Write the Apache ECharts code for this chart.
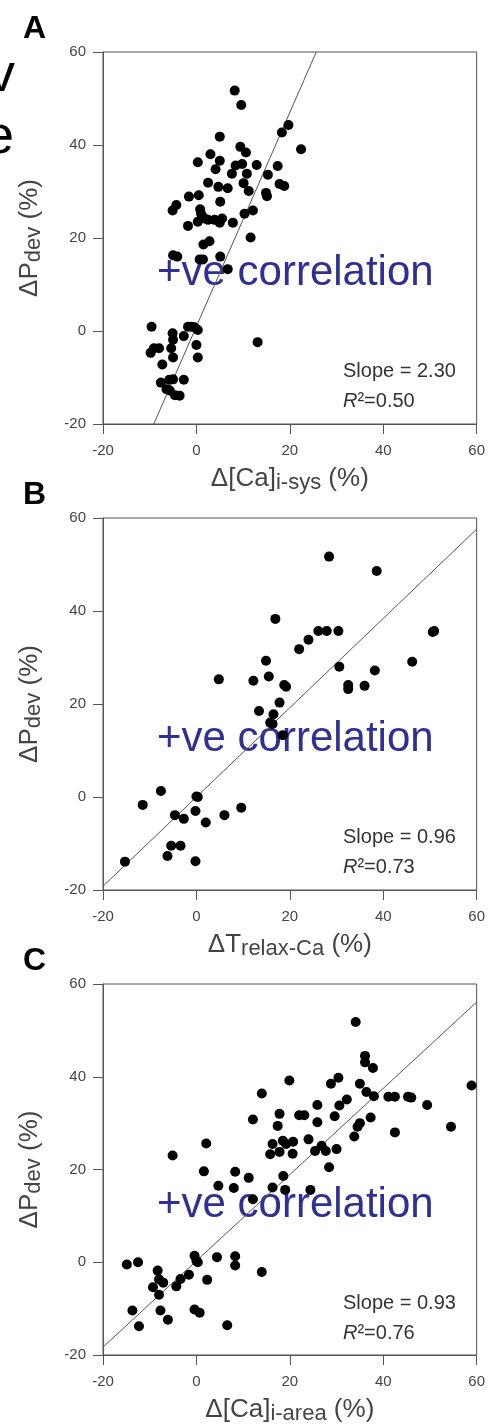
<!DOCTYPE html>
<html>
<head>
<meta charset="utf-8">
<script src="https://cdn.jsdelivr.net/npm/echarts@6/dist/echarts.min.js"></script>
<style>
  html, body { margin: 0; padding: 0; background: #fff; }
  #chart { width: 488px; height: 1426px; }
</style>
</head>
<body>
<div id="chart"></div>
<script>
// panel letters and fit results
const panelLabels = ['A', 'B', 'C']
const fitSlope = [2.30, 0.96, 0.93]
const fitIntercept = [1.0, 0.0, 0.3]
const fitR2 = ['0.50', '0.73', '0.76']
const xTicks = [-20, 60, 20]   // min, max, interval
const yTicks = [-20, 60, 20]

// A: dPdev vs d[Ca]i-sys
const pointsA = [
  [8.2, 51.7], [9.6, 48.6], [19.7, 44.3], [18.3, 42.7], [22.4, 39.1], [5.0, 41.8], [9.4, 39.6],
  [10.6, 38.4], [3.0, 38.0], [0.3, 36.3], [5.0, 36.6], [8.4, 35.6], [9.8, 35.9], [12.9, 35.7],
  [17.4, 35.5], [4.1, 34.8], [7.6, 33.8], [10.8, 33.8], [15.3, 33.6], [2.5, 31.9], [10.1, 31.8],
  [17.8, 31.6], [18.8, 31.2], [4.7, 31.0], [6.7, 30.7], [11.2, 30.1], [14.9, 29.7], [15.1, 29.0],
  [-1.6, 28.9], [0.5, 29.2], [5.1, 27.8], [-4.3, 27.1], [-5.1, 25.9], [0.8, 26.2], [12.1, 25.9],
  [1.0, 25.2], [10.3, 25.2], [1.8, 24.2], [2.5, 23.9], [3.9, 23.9], [5.5, 24.2], [0.3, 23.5],
  [5.0, 23.3], [7.8, 23.3], [-1.8, 22.6], [11.6, 20.1], [1.5, 18.6], [2.8, 19.3], [-5.0, 16.3],
  [-4.1, 16.0], [0.7, 15.4], [1.4, 15.4], [5.1, 16.0], [6.7, 13.3], [-9.6, 0.9], [-9.8, -4.7],
  [-9.1, -3.7], [-8.0, -3.7], [-5.1, -0.5], [-5.0, -1.9], [-5.4, -3.7], [-5.0, -5.7], [-7.3, -7.2],
  [-2.7, -1.1], [-1.8, 0.9], [-1.1, 0.9], [-0.4, 0.8], [0.3, 0.2], [0.0, -3.0], [0.3, -5.7],
  [13.1, -2.4], [-7.6, -11.1], [-5.8, -10.5], [-5.0, -10.4], [-2.7, -10.5], [-6.4, -12.5],
  [-5.7, -12.8], [-4.6, -13.8], [-3.6, -13.9]
]

// B: dPdev vs dT relax-Ca
const pointsB = [
  [28.4, 51.7], [38.6, 48.6], [16.9, 38.3], [26.1, 35.7], [27.9, 35.7], [30.4, 35.7], [24.0, 33.8],
  [22.0, 31.8], [14.9, 29.3], [46.2, 29.1], [50.6, 35.5], [50.9, 35.7], [30.6, 28.0], [38.2, 27.2],
  [4.8, 25.3], [12.2, 25.0], [15.5, 25.9], [18.8, 24.1], [19.2, 23.7], [32.5, 24.1], [32.5, 23.2],
  [36.0, 23.9], [17.8, 20.3], [13.4, 18.5], [16.5, 17.8], [15.8, 16.0], [16.3, 15.7], [18.5, 13.3],
  [-7.6, 1.3], [-11.5, -1.7], [0.0, 0.1], [0.3, 0.0], [-0.2, -3.0], [9.6, -2.3], [-4.6, -3.9],
  [-2.7, -4.7], [2.0, -5.5], [6.0, -3.9], [-5.4, -10.5], [-3.4, -10.5], [-6.2, -12.7],
  [-0.2, -13.8], [-15.3, -13.9]
]

// C: dPdev vs d[Ca]i-area
const pointsC = [
  [34.1, 51.8], [36.1, 44.5], [36.1, 43.1], [37.8, 41.9], [19.9, 39.2], [30.4, 39.8], [28.8, 38.5],
  [35.0, 38.5], [58.9, 38.1], [14.0, 36.4], [36.4, 36.7], [38.0, 35.8], [41.1, 35.7], [42.5, 35.7],
  [45.3, 35.7], [46.0, 35.5], [32.2, 35.1], [30.6, 33.8], [25.9, 33.9], [49.4, 33.9], [17.8, 32.0],
  [22.0, 31.7], [23.1, 31.7], [29.6, 31.5], [37.3, 31.2], [12.1, 30.8], [25.9, 30.2], [17.4, 29.4],
  [35.0, 30.0], [34.5, 29.2], [54.5, 29.2], [42.5, 28.0], [33.8, 27.1], [24.0, 26.5], [2.1, 25.6],
  [16.3, 25.5], [18.5, 26.2], [19.2, 25.5], [20.7, 26.0], [26.8, 25.1], [15.8, 23.3], [17.8, 23.8],
  [20.6, 23.4], [25.4, 24.0], [27.7, 24.0], [30.0, 24.4], [-5.1, 23.0], [28.4, 20.5], [1.6, 19.6],
  [8.3, 19.5], [11.2, 18.2], [18.6, 18.6], [4.7, 16.5], [8.0, 16.0], [16.3, 16.1], [19.0, 15.6],
  [24.4, 15.6], [12.1, 13.6], [-14.9, -0.5], [-12.5, 0.0], [-0.4, 1.4], [0.0, 0.3], [0.3, 0.0],
  [4.4, 1.1], [8.3, 1.3], [8.3, -0.7], [14.0, -2.1], [-8.3, -1.8], [-1.6, -2.7], [-3.4, -3.6],
  [2.3, -3.8], [-8.0, -3.7], [-7.1, -4.4], [-9.3, -5.4], [-4.3, -5.2], [-8.0, -7.0], [-13.7, -10.4],
  [-7.7, -10.4], [-0.4, -10.2], [0.7, -10.9], [-6.1, -12.4], [-12.3, -13.8], [6.6, -13.6]
]

const allPoints = [pointsA, pointsB, pointsC]
// x axis titles: [main, subscript]
const xNames = [['Δ[Ca]', 'i-sys'], ['ΔT', 'relax-Ca'], ['Δ[Ca]', 'i-area']]
const labelText = '+ve correlation'

const font = "'Liberation Sans', Arial, sans-serif"
const gridTops = [52, 518, 984]
const gridH = 372
const gridLeft = 103
const gridW = 375

const chart = echarts.init(document.getElementById('chart'), null, { renderer: 'canvas' })

const nameRich = {
  m: { fontSize: 26, color: '#444', fontFamily: font, verticalAlign: 'top', lineHeight: 28 },
  s: { fontSize: 22, color: '#444', fontFamily: font, verticalAlign: 'bottom', lineHeight: 24, padding: [10, 0, 0, 0] }
}

const grids = []
const xAxes = []
const yAxes = []
const series = []
const graphics = []

for (let i = 0; i < 3; i++) {
  grids.push({
    left: gridLeft, top: gridTops[i], width: gridW, height: gridH,
    show: true, borderColor: '#555', borderWidth: 1, backgroundColor: 'transparent'
  })
  const axisCommon = {
    gridIndex: i,
    type: 'value',
    axisLine: { show: true, onZero: false, lineStyle: { color: '#555', width: 1 } },
    axisTick: { show: true, inside: false, length: 10, lineStyle: { color: '#555' } },
    axisLabel: { color: '#444', fontSize: 15, fontFamily: font },
    splitLine: { show: false }
  }
  xAxes.push(Object.assign({}, axisCommon, {
    min: xTicks[0], max: xTicks[1], interval: xTicks[2],
    axisLabel: Object.assign({}, axisCommon.axisLabel, { margin: 19 }),
    name: '{m|' + xNames[i][0] + '}{s|' + xNames[i][1] + '}{m| (%)}',
    nameLocation: 'middle', nameGap: 42,
    nameTextStyle: { rich: nameRich }
  }))
  yAxes.push(Object.assign({}, axisCommon, {
    min: yTicks[0], max: yTicks[1], interval: yTicks[2],
    axisLabel: Object.assign({}, axisCommon.axisLabel, { margin: 17 }),
    name: '{m|ΔP}{s|dev}{m| (%)}',
    nameLocation: 'middle', nameGap: 58, nameRotate: 90,
    nameTextStyle: { rich: nameRich }
  }))

  series.push({
    type: 'line',
    xAxisIndex: i, yAxisIndex: i,
    data: [xTicks[0], xTicks[1]].map(x => [x, fitSlope[i] * x + fitIntercept[i]]),
    showSymbol: false, symbol: 'none', clip: true, silent: true,
    lineStyle: { color: '#555', width: 1 },
    z: 3
  })
  series.push({
    type: 'scatter',
    xAxisIndex: i, yAxisIndex: i,
    data: allPoints[i],
    symbolSize: 10,
    itemStyle: { color: '#000', opacity: 1 },
    z: 4
  })

  const bottom = gridTops[i] + gridH
  graphics.push({
    type: 'text', left: 23, top: gridTops[i] - 39, z: 1,
    style: { text: panelLabels[i], font: 'bold 32px ' + font, fill: '#000' }
  })
  graphics.push({
    type: 'text', x: 157, y: gridTops[i] + 221, z: 1,
    style: { text: labelText, font: '42px ' + font, fill: '#2e3192', verticalAlign: 'middle' }
  })
  graphics.push({
    type: 'text', x: 343, y: bottom - 53, z: 1,
    style: { text: 'Slope = ' + fitSlope[i].toFixed(2), font: '20px ' + font, fill: '#333', verticalAlign: 'middle' }
  })
  graphics.push({
    type: 'text', x: 343, y: bottom - 23, z: 1,
    style: {
      text: '{i|R}{n|²=' + fitR2[i] + '}',
      verticalAlign: 'middle',
      rich: {
        i: { font: 'italic 20px ' + font, fill: '#333' },
        n: { font: '20px ' + font, fill: '#333' }
      }
    }
  })
}

// cut-off text fragments at the left edge
graphics.push({ type: 'text', x: -12, y: 76, z: 1, style: { text: 'v', font: '54px ' + font, fill: '#000', verticalAlign: 'middle' } })
graphics.push({ type: 'text', x: -16, y: 138, z: 1, style: { text: 'e', font: '54px ' + font, fill: '#000', verticalAlign: 'middle' } })

chart.setOption({
  animation: false,
  backgroundColor: '#fff',
  grid: grids,
  xAxis: xAxes,
  yAxis: yAxes,
  series: series,
  graphic: graphics
})
</script>
</body>
</html>
